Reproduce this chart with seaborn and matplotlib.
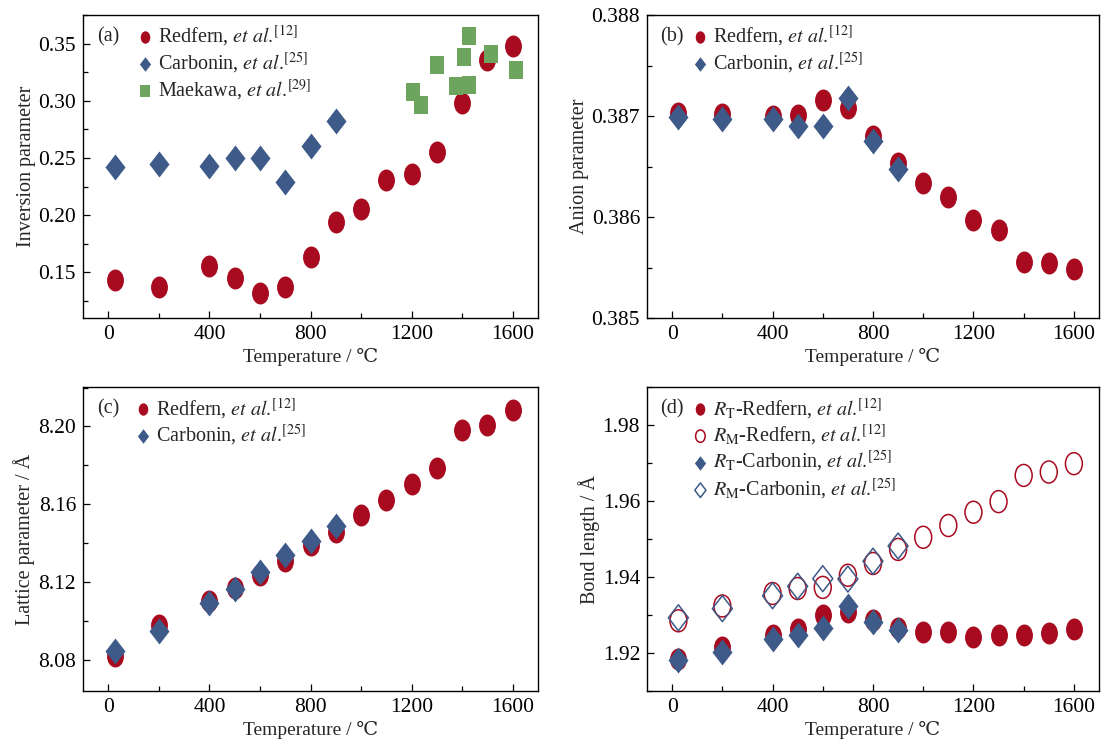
import numpy as np
import pandas as pd
import matplotlib
matplotlib.use("Agg")
import matplotlib.pyplot as plt
import seaborn as sns
from matplotlib.path import Path
from matplotlib.transforms import Affine2D
from matplotlib.ticker import MultipleLocator, FormatStrFormatter

# ---------------- data ----------------
T_red = [25, 200, 400, 500, 600, 700, 800, 900, 1000, 1100, 1200, 1300, 1400, 1500, 1600]
T_car = [25, 200, 400, 500, 600, 700, 800, 900]

inv_red = [0.143, 0.1375, 0.1555, 0.145, 0.1316, 0.1375, 0.1634, 0.1943, 0.2052,
           0.2304, 0.2363, 0.2552, 0.298, 0.336, 0.3477]
inv_car = [0.2424, 0.2448, 0.2433, 0.2497, 0.2497, 0.2288, 0.2608, 0.2826]
T_mae = [1205, 1237, 1299, 1374, 1409, 1427, 1427, 1515, 1613]
inv_mae = [0.3076, 0.2962, 0.3309, 0.3131, 0.3382, 0.3568, 0.314, 0.3408, 0.3268]

anion_red = [0.38703, 0.38702, 0.38700, 0.38701, 0.38716, 0.38708, 0.38680, 0.38653,
             0.38634, 0.38620, 0.38597, 0.38587, 0.38555, 0.38554, 0.38549]
anion_car = [0.38699, 0.38697, 0.38697, 0.38690, 0.38690, 0.38718, 0.38675, 0.38648]

latt_red = [8.0822, 8.0977, 8.1103, 8.1169, 8.1235, 8.131, 8.139, 8.1459, 8.1545,
            8.1622, 8.1703, 8.1789, 8.1984, 8.201, 8.2087]
latt_car = [8.0848, 8.0948, 8.1092, 8.1166, 8.1252, 8.1338, 8.141, 8.1488]

rt_red = [1.9185, 1.9216, 1.9247, 1.9264, 1.9301, 1.9308, 1.9288, 1.9267, 1.9256,
          1.9256, 1.9242, 1.9247, 1.9247, 1.9254, 1.9264]
rm_red = [1.9285, 1.9324, 1.9357, 1.9370, 1.9373, 1.9405, 1.9436, 1.9473, 1.9505,
          1.9536, 1.9571, 1.9599, 1.9668, 1.9677, 1.9699]
rt_car = [1.9182, 1.9203, 1.9238, 1.9247, 1.9267, 1.9324, 1.9282, 1.9262]
rm_car = [1.9293, 1.9317, 1.9351, 1.9376, 1.9396, 1.9395, 1.9442, 1.9482]

lab_red = r"Redfern, $\mathit{et\ al.}\!^{\mathrm{[12]}}$"
lab_car = r"Carbonin, $\mathit{et\ al.}\!^{\mathrm{[25]}}$"
lab_mae = r"Maekawa, $\mathit{et\ al.}\!^{\mathrm{[29]}}$"
lab_rt_red = r"$R_{\mathrm{T}}$-Redfern, $\mathit{et\ al.}\!^{\mathrm{[12]}}$"
lab_rm_red = r"$R_{\mathrm{M}}$-Redfern, $\mathit{et\ al.}\!^{\mathrm{[12]}}$"
lab_rt_car = r"$R_{\mathrm{T}}$-Carbonin, $\mathit{et\ al.}\!^{\mathrm{[25]}}$"
lab_rm_car = r"$R_{\mathrm{M}}$-Carbonin, $\mathit{et\ al.}\!^{\mathrm{[25]}}$"

# ---------------- style ----------------
sns.set_theme(style="ticks")
plt.rcParams["font.family"] = ["Liberation Serif", "DejaVu Serif"]
plt.rcParams["mathtext.fontset"] = "stix"
plt.rcParams["font.size"] = 14

RED = "#A80A1F"
BLUE = "#3D5A88"
GREEN = "#6DA55E"

ell = Path.unit_circle().transformed(Affine2D().scale(0.77, 1.0))
dia = Path([(0, 1), (0.77, 0), (0, -1), (-0.77, 0), (0, 1)],
           [Path.MOVETO, Path.LINETO, Path.LINETO, Path.LINETO, Path.CLOSEPOLY])
sq = Path([(-0.85, -1), (0.85, -1), (0.85, 1), (-0.85, 1), (-0.85, -1)],
          [Path.MOVETO, Path.LINETO, Path.LINETO, Path.LINETO, Path.CLOSEPOLY])

S_ELL = 250
S_DIA = 350
S_SQ = 150

fig = plt.figure(figsize=(11.01, 7.46), dpi=100)
W, H = 1101, 746

def make_ax(l, t, r, b):
    return fig.add_axes([l / W, 1 - b / H, (r - l) / W, (b - t) / H])

axA = make_ax(83, 15, 538, 318)
axB = make_ax(647, 15, 1099, 318)
axC = make_ax(83, 387, 538, 691)
axD = make_ax(647, 387, 1099, 691)


def style_axis(ax, ylim, ymaj, ymin, fmt, ylabel):
    ax.set_xlim(-100, 1700)
    ax.set_ylim(*ylim)
    ax.xaxis.set_major_locator(MultipleLocator(400))
    ax.xaxis.set_minor_locator(MultipleLocator(200))
    ax.yaxis.set_major_locator(MultipleLocator(ymaj))
    ax.yaxis.set_minor_locator(MultipleLocator(ymin))
    ax.yaxis.set_major_formatter(FormatStrFormatter(fmt))
    ax.tick_params(which="both", direction="in", top=False, right=False,
                   labelsize=15.5, colors="black", pad=5)
    ax.tick_params(which="major", length=5, width=0.9)
    ax.tick_params(which="minor", length=3.5, width=0.9)
    for sp in ax.spines.values():
        sp.set_visible(True)
        sp.set_linewidth(1.0)
        sp.set_color("black")
    ax.set_xlabel("Temperature / ℃", fontsize=14, labelpad=3)
    ax.set_ylabel(ylabel, fontsize=14.5, labelpad=2)


def legend(ax, tag, x_tag, x_leg, sizes):
    ax.text(x_tag, 0.928, tag, transform=ax.transAxes, fontsize=14.5,
            ha="left", va="center")
    leg = ax.legend(loc="upper left", bbox_to_anchor=(x_leg, 0.998), frameon=False,
                    fontsize=14.5, handletextpad=0.15, handlelength=1.0,
                    labelspacing=0.1, borderaxespad=0.2, borderpad=0.2)
    for h, s in zip(leg.legend_handles, sizes):
        h.set_sizes([s])
    return leg

# ---- (a) ----
sns.scatterplot(x=T_red, y=inv_red, ax=axA, marker=ell, s=S_ELL, color=RED,
                linewidth=0, label=lab_red, zorder=3)
sns.scatterplot(x=T_car, y=inv_car, ax=axA, marker=dia, s=S_DIA, color=BLUE,
                linewidth=0, label=lab_car, zorder=3)
sns.scatterplot(x=T_mae, y=inv_mae, ax=axA, marker=sq, s=S_SQ, color=GREEN,
                linewidth=0, label=lab_mae, zorder=4)
style_axis(axA, (0.11, 0.375), 0.05, 0.025, "%.2f", "Inversion parameter")
legend(axA, "(a)", 0.03, 0.097, [80, 110, 70])

# ---- (b) ----
sns.scatterplot(x=T_red, y=anion_red, ax=axB, marker=ell, s=S_ELL, color=RED,
                linewidth=0, label=lab_red, zorder=3)
sns.scatterplot(x=T_car, y=anion_car, ax=axB, marker=dia, s=S_DIA, color=BLUE,
                linewidth=0, label=lab_car, zorder=3)
style_axis(axB, (0.385, 0.388), 0.001, 0.0005, "%.3f", "Anion parameter")
legend(axB, "(b)", 0.03, 0.078, [80, 110])

# ---- (c) ----
sns.scatterplot(x=T_red, y=latt_red, ax=axC, marker=ell, s=S_ELL, color=RED,
                linewidth=0, label=lab_red, zorder=3)
sns.scatterplot(x=T_car, y=latt_car, ax=axC, marker=dia, s=S_DIA, color=BLUE,
                linewidth=0, label=lab_car, zorder=3)
style_axis(axC, (8.064, 8.2203), 0.04, 0.02, "%.2f", "Lattice parameter / Å")
legend(axC, "(c)", 0.03, 0.092, [80, 110])

# ---- (d) ----
sns.scatterplot(x=T_red, y=rt_red, ax=axD, marker=ell, s=S_ELL, color=RED,
                linewidth=0, label=lab_rt_red, zorder=3)
sns.scatterplot(x=T_red, y=rm_red, ax=axD, marker=ell, s=S_ELL, color=RED,
                facecolor="none", edgecolor=RED, linewidth=1.1,
                label=lab_rm_red, zorder=3)
sns.scatterplot(x=T_car, y=rt_car, ax=axD, marker=dia, s=S_DIA, color=BLUE,
                linewidth=0, label=lab_rt_car, zorder=4)
sns.scatterplot(x=T_car, y=rm_car, ax=axD, marker=dia, s=S_DIA, color=BLUE,
                facecolor="none", edgecolor=BLUE, linewidth=1.1,
                label=lab_rm_car, zorder=4)
style_axis(axD, (1.91, 1.9901), 0.02, 0.01, "%.2f", "Bond length / Å")
legend(axD, "(d)", 0.03, 0.078, [80, 80, 110, 110])

fig.savefig("out.png", dpi=100)
